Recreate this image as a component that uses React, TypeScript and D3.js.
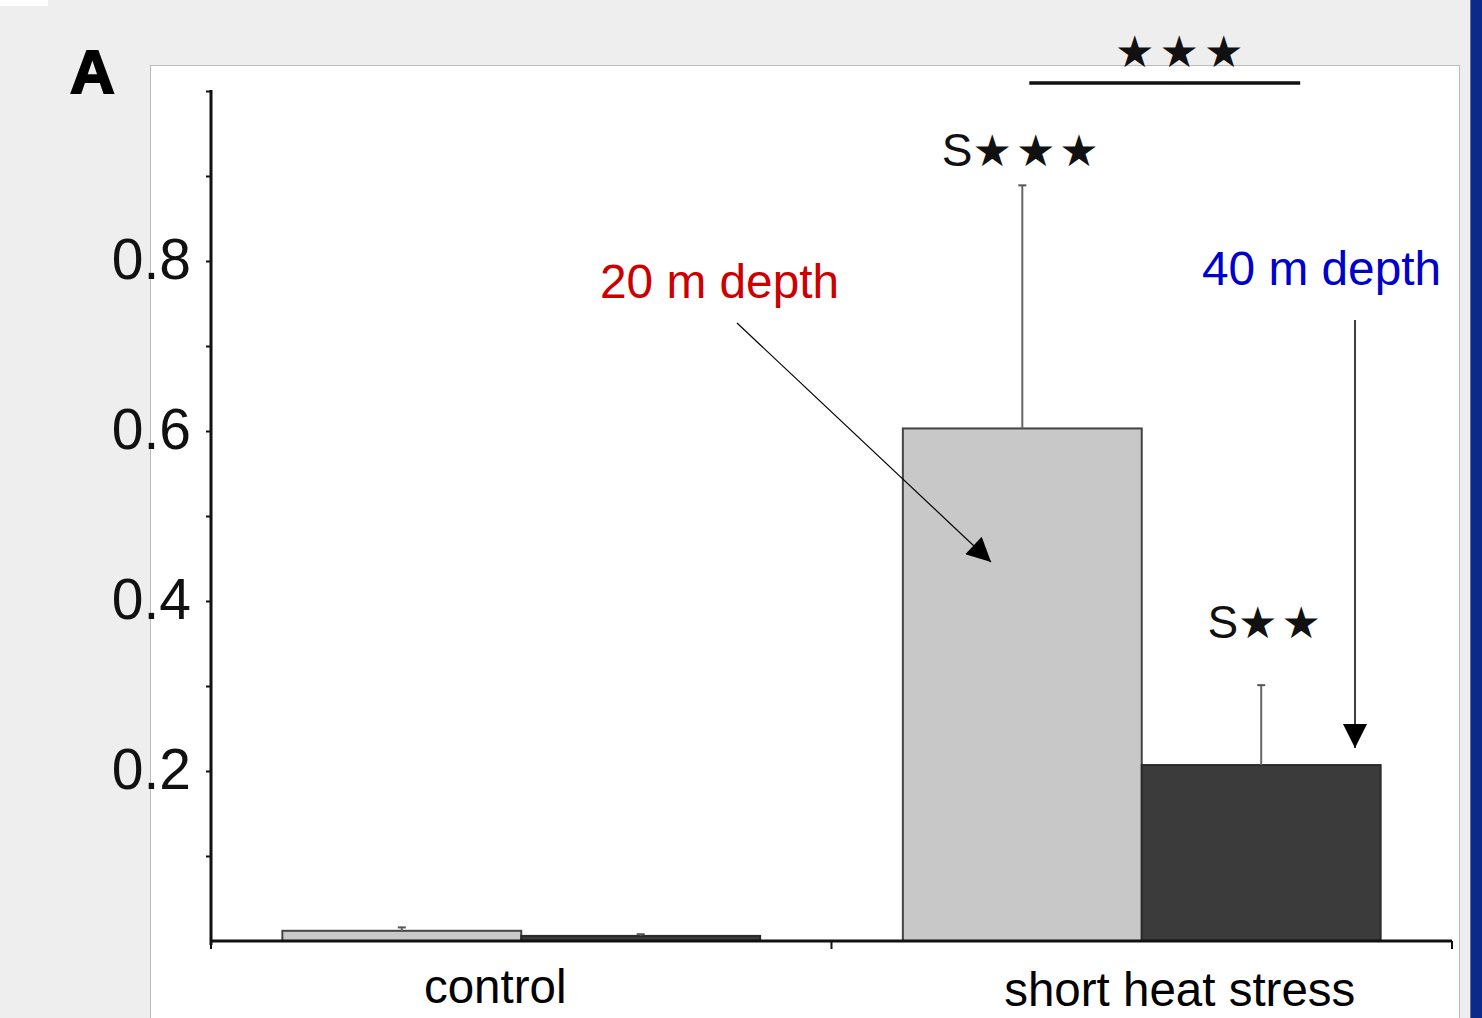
import { useEffect, useRef } from "react";
import * as d3 from "d3";

const groups = ["control", "short heat stress"];
const series = ["20 m depth", "40 m depth"];
const means20 = [0.012, 0.603];
const errs20 = [0.004, 0.286];
const means40 = [0.006, 0.207];
const errs40 = [0.002, 0.094];
const yTicks = [0.2, 0.4, 0.6, 0.8];
const yMinorTicks = [0.1, 0.2, 0.3, 0.4, 0.5, 0.6, 0.7, 0.8, 0.9, 1.0];
const barLabels = ["S★★★", "S★★"];
const topStars = "★★★";

const W = 1482;
const H = 1018;

export default function App() {
  const svgRef = useRef<SVGSVGElement>(null);

  useEffect(() => {
    if (!svgRef.current) return;
    const svg = d3.select(svgRef.current);
    svg.selectAll("*").remove();

    const left = 211;
    const right = 1452;
    const y0 = 941;
    const yTop = 91;
    const sans = "'Liberation Sans', Arial, sans-serif";
    const starFont = "'DejaVu Sans', sans-serif";

    // page background, panel, blue strip
    svg.append("rect").attr("width", W).attr("height", H).attr("fill", "#eeeeee");
    svg.append("rect").attr("x", 0).attr("y", 0).attr("width", 48).attr("height", 6).attr("fill", "#ffffff");
    svg
      .append("rect")
      .attr("x", 150.5)
      .attr("y", 65.5)
      .attr("width", 1309)
      .attr("height", 970)
      .attr("fill", "#ffffff")
      .attr("stroke", "#bbbbbb");
    svg.append("rect").attr("x", 1470).attr("y", 0).attr("width", 12).attr("height", H).attr("fill", "#0b2a8a");
    svg.append("rect").attr("x", 1470).attr("y", 0).attr("width", 1).attr("height", H).attr("fill", "#5a6fb0");

    svg
      .append("text")
      .attr("x", 70)
      .attr("y", 93)
      .attr("font-family", sans)
      .attr("font-weight", "bold")
      .attr("font-size", 62)
      .attr("stroke", "#000")
      .attr("stroke-width", 2)
      .attr("fill", "#000")
      .text("A");

    const yScale = d3.scaleLinear().domain([0, 1]).range([y0, yTop]);
    const x0 = d3.scaleBand().domain(groups).range([left, right]).paddingInner(0.23).paddingOuter(0.115);
    const x1 = d3.scaleBand().domain(series).range([0, x0.bandwidth()]).padding(0);

    const g = svg.append("g");

    // bars
    const rows = groups.map((grp, i) => [
      { grp, s: series[0], v: means20[i], e: errs20[i] },
      { grp, s: series[1], v: means40[i], e: errs40[i] },
    ]);
    const flat = rows.flat();

    g.selectAll(".bar")
      .data(flat)
      .enter()
      .append("rect")
      .attr("x", (d) => (x0(d.grp) ?? 0) + (x1(d.s) ?? 0))
      .attr("y", (d) => yScale(d.v))
      .attr("width", x1.bandwidth())
      .attr("height", (d) => y0 - yScale(d.v))
      .attr("fill", (d) => (d.s === series[0] ? "#c8c8c8" : "#3b3b3b"))
      .attr("stroke", (d) => (d.s === series[0] ? "#444" : "#2a2a2a"))
      .attr("stroke-width", 2);

    // error bars
    const cx = (d: { grp: string; s: string }) => (x0(d.grp) ?? 0) + (x1(d.s) ?? 0) + x1.bandwidth() / 2;
    g.selectAll(".err")
      .data(flat)
      .enter()
      .append("line")
      .attr("x1", cx)
      .attr("x2", cx)
      .attr("y1", (d) => yScale(d.v))
      .attr("y2", (d) => yScale(d.v + d.e))
      .attr("stroke", "#666")
      .attr("stroke-width", 2);
    g.selectAll(".cap")
      .data(flat)
      .enter()
      .append("line")
      .attr("x1", (d) => cx(d) - 4)
      .attr("x2", (d) => cx(d) + 4)
      .attr("y1", (d) => yScale(d.v + d.e))
      .attr("y2", (d) => yScale(d.v + d.e))
      .attr("stroke", "#555")
      .attr("stroke-width", 2);

    // y axis
    const yAxis = g.append("g").attr("transform", `translate(${left},0)`);
    yAxis
      .call(d3.axisLeft(yScale).tickValues(yMinorTicks).tickSize(5).tickFormat(() => ""))
      .call((ax) => ax.select(".domain").remove())
      .call((ax) => ax.selectAll(".tick line").attr("stroke", "#111").attr("stroke-width", 2));
    yAxis
      .append("line")
      .attr("x1", 0)
      .attr("x2", 0)
      .attr("y1", yScale(1) - 1)
      .attr("y2", y0 + 4)
      .attr("stroke", "#111")
      .attr("stroke-width", 3);
    yAxis
      .selectAll(".lbl")
      .data(yTicks)
      .enter()
      .append("text")
      .attr("x", -20)
      .attr("y", (d) => yScale(d) + 18)
      .attr("text-anchor", "end")
      .attr("font-family", sans)
      .attr("font-size", 57)
      .attr("fill", "#111")
      .text((d) => d3.format(".1f")(d));

    // x axis
    const xAxis = g.append("g").attr("transform", `translate(0,${y0})`);
    xAxis
      .append("line")
      .attr("x1", left)
      .attr("x2", right)
      .attr("stroke", "#111")
      .attr("stroke-width", 3);
    const bounds = [left, ...groups.map((gr) => (x0(gr) ?? 0) + x0.bandwidth() + (x0.step() - x0.bandwidth()) / 2)];
    xAxis
      .selectAll(".xt")
      .data(bounds)
      .enter()
      .append("line")
      .attr("x1", (d) => d)
      .attr("x2", (d) => d)
      .attr("y1", 0)
      .attr("y2", 8)
      .attr("stroke", "#111")
      .attr("stroke-width", 2);
    xAxis
      .selectAll(".xl")
      .data(groups)
      .enter()
      .append("text")
      .attr("x", (d, i) => (x0(d) ?? 0) + x0.bandwidth() / 2 + (i === 0 ? -26 : 38))
      .attr("y", (_, i) => (i === 0 ? 62 : 65))
      .attr("text-anchor", "middle")
      .attr("font-family", sans)
      .attr("font-size", 47.5)
      .attr("fill", "#000")
      .text((d) => d);

    // significance labels above heat bars
    const heat = rows[1];
    const labelPos = [
      { d: heat[0], dx: 0, dy: -19 },
      { d: heat[1], dx: 5, dy: -47 },
    ];
    labelPos.forEach(({ d, dx, dy }, i) => {
      const t = g
        .append("text")
        .attr("x", cx(d) + dx)
        .attr("y", yScale(d.v + d.e) + dy)
        .attr("text-anchor", "middle")
        .attr("fill", "#111");
      t.append("tspan").attr("font-family", sans).attr("font-size", 46).text(barLabels[i].slice(0, 1));
      t.append("tspan")
        .attr("font-family", starFont)
        .attr("font-size", 44)
        .attr("letter-spacing", 4)
        .text(barLabels[i].slice(1));
    });

    // top comparison bracket
    const bx1 = cx(heat[0]) + 7;
    const bx2 = cx(heat[1]) + 39;
    g.append("line")
      .attr("x1", bx1)
      .attr("x2", bx2)
      .attr("y1", 83)
      .attr("y2", 83)
      .attr("stroke", "#111")
      .attr("stroke-width", 3.5);
    g.append("text")
      .attr("x", (bx1 + bx2) / 2 + 17)
      .attr("y", 67)
      .attr("text-anchor", "middle")
      .attr("font-family", starFont)
      .attr("font-size", 44)
      .attr("letter-spacing", 5)
      .attr("fill", "#111")
      .text(topStars);

    // annotations with arrows
    svg
      .append("defs")
      .append("marker")
      .attr("id", "ah")
      .attr("viewBox", "0 0 10 10")
      .attr("refX", 10)
      .attr("refY", 5)
      .attr("markerUnits", "userSpaceOnUse")
      .attr("markerWidth", 32)
      .attr("markerHeight", 24)
      .attr("orient", "auto")
      .append("path")
      .attr("d", "M0,0L10,5L0,10Z")
      .attr("fill", "#000");

    g.append("text")
      .attr("x", 600)
      .attr("y", 298)
      .attr("font-family", sans)
      .attr("font-size", 47.8)
      .attr("fill", "#cc0000")
      .text(series[0]);
    g.append("line")
      .attr("x1", 737)
      .attr("y1", 323)
      .attr("x2", 991)
      .attr("y2", 562)
      .attr("stroke", "#000")
      .attr("stroke-width", 1.2)
      .attr("marker-end", "url(#ah)");

    g.append("text")
      .attr("x", 1202)
      .attr("y", 285)
      .attr("font-family", sans)
      .attr("font-size", 47.8)
      .attr("fill", "#0000cc")
      .text(series[1]);
    g.append("line")
      .attr("x1", 1355)
      .attr("y1", 320)
      .attr("x2", 1355)
      .attr("y2", 748)
      .attr("stroke", "#000")
      .attr("stroke-width", 1.5)
      .attr("marker-end", "url(#ah)");
  }, []);

  return (
    <div style={{ position: "absolute", left: 0, top: 0 }}>
      <svg ref={svgRef} width={W} height={H} style={{ display: "block" }} />
    </div>
  );
}
